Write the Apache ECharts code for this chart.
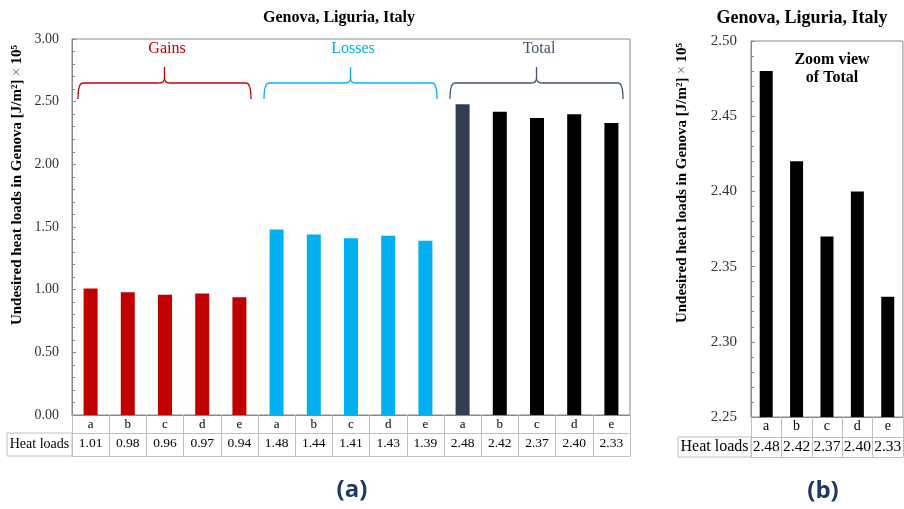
<!DOCTYPE html>
<html>
<head>
<meta charset="utf-8">
<script src="https://cdn.jsdelivr.net/npm/echarts@6/dist/echarts.min.js"></script>
<style>
  html, body { margin: 0; padding: 0; background: #ffffff; }
  #chart { width: 904px; height: 509px; }
</style>
</head>
<body>
<div id="chart"></div>
<script>
// Heat load cases and values, in J/m² × 10⁵
const caseLabels = ['a', 'b', 'c', 'd', 'e'];
const groupNames = ['Gains', 'Losses', 'Total'];
const gains  = [1.01, 0.98, 0.96, 0.97, 0.94];
const losses = [1.48, 1.44, 1.41, 1.43, 1.39];
const total  = [2.48, 2.42, 2.37, 2.40, 2.33];
const rowHeader = 'Heat loads';
const chartTitle = 'Genova, Liguria, Italy';
const zoomNote = ['Zoom view', 'of Total'];
const panelTags = ['(a)', '(b)'];

// Axis ranges
const mainAxis = { min: 0, max: 3, interval: 0.5 };
const zoomAxis = { min: 2.25, max: 2.50, interval: 0.05 };

// Colours
const gainColor = '#c00000';
const lossColor = '#00b0f0';
const totalLabelColor = '#44546a';
const totalFirstColor = '#333f50';
const totalColor = '#000000';
const tableLine = '#c0c0c0';
const frameLine = '#888888';
const serif = '"Liberation Serif", "DejaVu Serif", serif';

const groupSeries = [gains, losses, total];
const allValues = [].concat(gains, losses, total);
const allIds = [];
groupNames.forEach(g => caseLabels.forEach(c => allIds.push(g + '|' + c)));
const letterOf = id => id.split('|')[1];
const barColor = (gi, ci) => gi === 0 ? gainColor : gi === 1 ? lossColor : (ci === 0 ? totalFirstColor : totalColor);

const mainBars = [];
groupSeries.forEach((arr, gi) => arr.forEach((v, ci) => {
  mainBars.push({ value: v, itemStyle: { color: barColor(gi, ci) } });
}));
const zoomBars = total.map(v => ({ value: v, itemStyle: { color: totalColor } }));
const fmt2 = v => Number(v).toFixed(2);

const chart = echarts.init(document.getElementById('chart'), null, { renderer: 'canvas' });

const option = {
  animation: false,
  backgroundColor: '#ffffff',
  title: [
    { text: chartTitle, left: 334, top: 5, textAlign: 'center',
      textStyle: { fontFamily: serif, fontSize: 16, fontWeight: 'bold', color: '#000' } },
    { text: chartTitle, left: 797, top: 4, textAlign: 'center',
      textStyle: { fontFamily: serif, fontSize: 18, fontWeight: 'bold', color: '#000' } }
  ],
  grid: [
    { left: 72, top: 39, width: 558, height: 376, show: true, borderColor: frameLine, borderWidth: 1, containLabel: false },
    { left: 751, top: 41, width: 155, height: 376, show: true, borderColor: frameLine, borderWidth: 1, containLabel: false }
  ],
  xAxis: [
    // case letters row (ticks extend down as table cell borders)
    { type: 'category', gridIndex: 0, data: allIds, position: 'bottom',
      axisLine: { show: true, lineStyle: { color: frameLine } },
      axisTick: { show: true, length: 41, lineStyle: { color: tableLine } },
      axisLabel: { margin: 3, formatter: letterOf, fontFamily: serif, fontSize: 13, color: '#000', interval: 0 } },
    // values row
    { type: 'category', gridIndex: 0, data: allValues.map(fmt2), position: 'bottom', offset: 18,
      axisLine: { show: true, lineStyle: { color: tableLine } },
      axisTick: { show: false },
      axisLabel: { margin: 3, fontFamily: serif, fontSize: 13.5, color: '#000', interval: 0 } },
    // table bottom edge
    { type: 'category', gridIndex: 0, data: allIds, position: 'bottom', offset: 41,
      axisLine: { show: true, lineStyle: { color: tableLine } },
      axisTick: { show: false }, axisLabel: { show: false } },

    { type: 'category', gridIndex: 1, data: caseLabels, position: 'bottom',
      axisLine: { show: true, lineStyle: { color: frameLine } },
      axisTick: { show: true, length: 40, lineStyle: { color: tableLine } },
      axisLabel: { margin: 2, fontFamily: serif, fontSize: 14, color: '#000', interval: 0 } },
    { type: 'category', gridIndex: 1, data: total.map(fmt2), position: 'bottom', offset: 20,
      axisLine: { show: true, lineStyle: { color: tableLine } },
      axisTick: { show: false },
      axisLabel: { margin: 2, fontFamily: serif, fontSize: 15.5, color: '#000', interval: 0 } },
    { type: 'category', gridIndex: 1, data: caseLabels, position: 'bottom', offset: 40,
      axisLine: { show: true, lineStyle: { color: tableLine } },
      axisTick: { show: false }, axisLabel: { show: false } }
  ],
  yAxis: [
    { type: 'value', gridIndex: 0, min: mainAxis.min, max: mainAxis.max, interval: mainAxis.interval,
      axisLine: { show: true, lineStyle: { color: frameLine } },
      axisTick: { show: true, inside: true, length: 4, lineStyle: { color: frameLine } },
      minorTick: { show: true, splitNumber: 5, length: 3, lineStyle: { color: frameLine } },
      splitLine: { show: false },
      axisLabel: { margin: 13, formatter: fmt2, fontFamily: serif, fontSize: 14, color: '#333' } },
    { type: 'value', gridIndex: 1, min: zoomAxis.min, max: zoomAxis.max, interval: zoomAxis.interval,
      axisLine: { show: true, lineStyle: { color: frameLine } },
      axisTick: { show: true, inside: true, length: 4, lineStyle: { color: frameLine } },
      minorTick: { show: true, splitNumber: 5, length: 3, lineStyle: { color: frameLine } },
      splitLine: { show: false },
      axisLabel: { margin: 14, formatter: fmt2, fontFamily: serif, fontSize: 15, color: '#333' } }
  ],
  series: [
    { type: 'bar', xAxisIndex: 0, yAxisIndex: 0, data: mainBars, barWidth: 14 },
    { type: 'bar', xAxisIndex: 3, yAxisIndex: 1, data: zoomBars, barWidth: 13 }
  ]
};

chart.setOption(option);

// Curly brace drawn from line and quadratic-curve pieces
function brace(x0, x1, yTop, yH, yBot, color) {
  const xc = (x0 + x1) / 2, r = 5;
  const ls = { stroke: color, lineWidth: 1.3, fill: null };
  const seg = (a, b, c, d) => ({ type: 'line', shape: { x1: a, y1: b, x2: c, y2: d }, style: ls, silent: true });
  const crv = (a, b, cx, cy, c, d) => ({ type: 'bezierCurve', shape: { x1: a, y1: b, cpx1: cx, cpy1: cy, x2: c, y2: d }, style: ls, silent: true });
  return [
    crv(x0, yBot, x0, yH, x0 + r, yH),
    seg(x0 + r, yH, xc - r, yH),
    crv(xc - r, yH, xc, yH, xc, yH - r),
    seg(xc, yH - r, xc, yTop),
    crv(xc + r, yH, xc, yH, xc, yH - r),
    seg(xc + r, yH, x1 - r, yH),
    crv(x1 - r, yH, x1, yH, x1, yBot)
  ];
}

const px = (gi, x, y) => chart.convertToPixel({ gridIndex: gi }, [x, y]);
const groupColors = [gainColor, lossColor, totalLabelColor];
const graphics = [];
groupNames.forEach((g, gi) => {
  const first = px(0, gi * 5, 0)[0];
  const last = px(0, gi * 5 + 4, 0)[0];
  const xc = (first + last) / 2;
  graphics.push(...brace(xc - 87, xc + 86, 67, 83, 99, groupColors[gi]));
  graphics.push({ type: 'text', x: xc + 2, y: 49, silent: true,
    style: { text: g, fill: groupColors[gi], font: '16px ' + serif, textAlign: 'center', textVerticalAlign: 'middle' } });
});

// "Heat loads" header cells of the two tables
function plotLeft(gi, yMin) {
  const c0 = px(gi, 0, yMin), c1 = px(gi, 1, yMin);
  return [c0[0] - (c1[0] - c0[0]) / 2, c0[1]];
}
const [left0, base0] = plotLeft(0, mainAxis.min);
graphics.push({ type: 'rect', shape: { x: 7, y: base0 + 18, width: left0 - 7, height: 23 }, silent: true,
  style: { fill: null, stroke: tableLine, lineWidth: 1 } });
graphics.push({ type: 'text', x: (7 + left0) / 2, y: base0 + 29.5, silent: true,
  style: { text: rowHeader, font: '14px ' + serif, fill: '#000', textAlign: 'center', textVerticalAlign: 'middle' } });

const [left1, base1] = plotLeft(1, zoomAxis.min);
graphics.push({ type: 'rect', shape: { x: 678, y: base1 + 20, width: left1 - 678, height: 20 }, silent: true,
  style: { fill: null, stroke: tableLine, lineWidth: 1 } });
graphics.push({ type: 'text', x: (678 + left1) / 2, y: base1 + 30, silent: true,
  style: { text: rowHeader, font: '16px ' + serif, fill: '#000', textAlign: 'center', textVerticalAlign: 'middle' } });

// Vertical value-axis titles
const yTitle = '{b|Undesired heat loads in Genova [J/m²]} {n|×} {b|10⁵}';
[[17, 185], [682, 183]].forEach(p => graphics.push({ type: 'text', x: p[0], y: p[1], rotation: Math.PI / 2, silent: true,
  style: { text: yTitle, textAlign: 'center', textVerticalAlign: 'middle',
    rich: { b: { font: 'bold 15px ' + serif, fill: '#000' }, n: { font: '15px ' + serif, fill: '#666' } } } }));

// Zoom note inside the right panel
zoomNote.forEach((t, i) => graphics.push({ type: 'text', x: 832, y: 60 + i * 18, silent: true,
  style: { text: t, font: 'bold 16px ' + serif, fill: '#000', textAlign: 'center', textVerticalAlign: 'middle' } }));

// Panel tags
[[352, 490], [823, 491]].forEach((p, i) => graphics.push({ type: 'text', x: p[0], y: p[1], silent: true,
  style: { text: panelTags[i], font: 'bold 24px "Open Sans", "Liberation Sans", sans-serif', fill: '#1f3864',
           textAlign: 'center', textVerticalAlign: 'middle' } }));

chart.setOption({ graphic: { elements: graphics } });
</script>
</body>
</html>
